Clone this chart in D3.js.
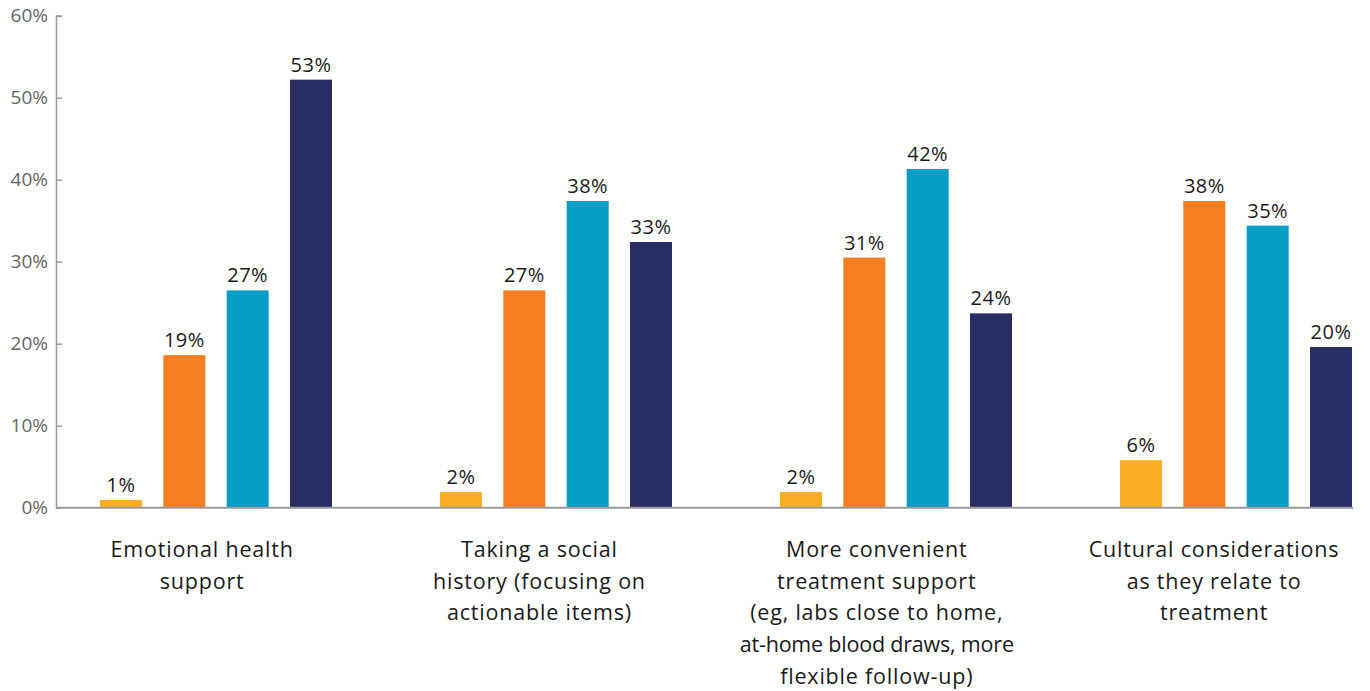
<!DOCTYPE html>
<html>
<head>
<meta charset="utf-8">
<script src="https://cdn.jsdelivr.net/npm/d3@7"></script>
<style>
  html, body { margin: 0; padding: 0; background: #fff; }
  svg { display: block; font-family: "Open Sans", Lato, sans-serif; }
</style>
</head>
<body>
<svg id="chart" width="1370" height="691"></svg>
<script>
const categories = [
  ["Emotional health", "support"],
  ["Taking a social", "history (focusing on", "actionable items)"],
  ["More convenient", "treatment support", "(eg, labs close to home,", "at-home blood draws, more", "flexible follow-up)"],
  ["Cultural considerations", "as they relate to", "treatment"]
];
const seriesNames = ["s1", "s2", "s3", "s4"];
const seriesColors = ["#FBAE24", "#F47E20", "#079DC5", "#292D66"];
// bar values (percent) and printed labels
const values = [
  [0.95, 18.6, 26.5, 52.2],
  [1.9, 26.5, 37.4, 32.4],
  [1.9, 30.5, 41.3, 23.7],
  [5.8, 37.4, 34.4, 19.6]
];
const valueLabels = [
  ["1%", "19%", "27%", "53%"],
  ["2%", "27%", "38%", "33%"],
  ["2%", "31%", "42%", "24%"],
  ["6%", "38%", "35%", "20%"]
];
const yTicks = [0, 10, 20, 30, 40, 50, 60];

const svg = d3.select("#chart");
const axisX = 56, baseY = 507.7;

const y = d3.scaleLinear().domain([0, 60]).range([baseY, 15.7]);
const groupIdx = categories.map((c, i) => i);
const x0 = d3.scaleBand().domain(groupIdx).range([axisX, axisX + 4 * 340]).padding(0);
const x1 = d3.scaleBand().domain(seriesNames).range([44, 276]).paddingInner(0.337).paddingOuter(0);
const xLabel = d3.scaleBand().domain(groupIdx).range([33.5, 33.5 + 4 * 337.3]).padding(0);

// Y axis
const yAxis = d3.axisLeft(y).tickValues(yTicks).tickFormat(d => d + "%").tickSize(-6).tickPadding(8);
const gy = svg.append("g").attr("transform", `translate(${axisX},0)`).call(yAxis);
gy.select(".domain").attr("stroke", "#9a9a9a").attr("stroke-width", 1.5);
gy.selectAll(".tick line").attr("stroke", "#9a9a9a").attr("stroke-width", 1.5);
gy.selectAll(".tick text").attr("fill", "#666666").attr("font-size", 19).attr("font-weight", 400)
  .attr("font-family", "'Open Sans', sans-serif");

// Bars
const groups = svg.append("g").selectAll("g").data(values).join("g")
  .attr("transform", (d, i) => `translate(${x0(i)},0)`);

groups.selectAll("rect").data(d => d.map((v, j) => ({v, j}))).join("rect")
  .attr("x", d => x1(seriesNames[d.j]))
  .attr("width", x1.bandwidth())
  .attr("y", d => y(d.v))
  .attr("height", d => baseY - y(d.v))
  .attr("fill", d => seriesColors[d.j]);

groups.each(function(d, i) {
  d3.select(this).selectAll("text.val").data(d.map((v, j) => ({v, j}))).join("text")
    .attr("class", "val")
    .attr("x", e => x1(seriesNames[e.j]) + x1.bandwidth() / 2)
    .attr("y", e => y(e.v) - 8)
    .attr("text-anchor", "middle")
    .attr("font-size", 20)
    .attr("font-weight", 500)
    .attr("letter-spacing", 0.5)
    .attr("fill", "#1a1a1a")
    .text(e => valueLabels[i][e.j]);
});

// X axis line
const lastBarEnd = x0(3) + x1(seriesNames[3]) + x1.bandwidth() + 1;
svg.append("line")
  .attr("x1", axisX).attr("x2", lastBarEnd)
  .attr("y1", baseY).attr("y2", baseY)
  .attr("stroke", "#9a9a9a").attr("stroke-width", 2);

// Category labels
categories.forEach((lines, i) => {
  const cx = xLabel(i) + xLabel.bandwidth() / 2;
  const t = svg.append("text")
    .attr("x", cx)
    .attr("y", 557)
    .attr("text-anchor", "middle")
    .attr("font-size", 21.5)
    .attr("font-weight", 400)
    .attr("letter-spacing", 0.8)
    .attr("fill", "#1a1a1a");
  lines.forEach((ln, k) => {
    t.append("tspan").attr("x", cx).attr("y", 557 + k * 31.7)
      .attr("letter-spacing", ln.length > 24 ? -0.2 : null)
      .text(ln);
  });
});
</script>
</body>
</html>
